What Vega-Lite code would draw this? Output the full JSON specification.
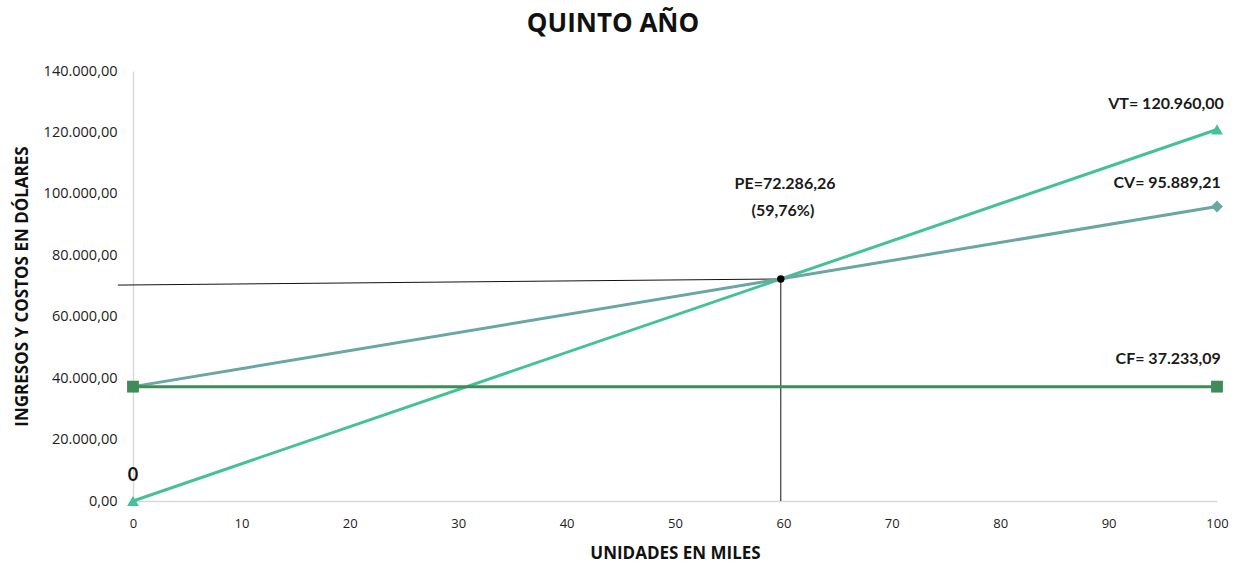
{
  "$schema": "https://vega.github.io/schema/vega-lite/v6.json",
  "width": 1084,
  "height": 430,
  "autosize": {"type": "none"},
  "padding": {"left": 133, "top": 71, "right": 38, "bottom": 64},
  "background": "white",
  "config": {
    "locale": {"number": {"decimal": ",", "thousands": ".", "grouping": [3], "currency": ["$", ""]}},
    "view": {"stroke": null},
    "font": "Lato"
  },
  "title": {
    "text": "QUINTO AÑO",
    "fontSize": 26,
    "font": "Open Sans",
    "fontWeight": "bold",
    "color": "#111111",
    "anchor": "middle",
    "dx": -62,
    "offset": 26
  },
  "datasets": {
    "series": [
      {"serie": "VT", "x": 0, "y": 0},
      {"serie": "VT", "x": 100, "y": 120960},
      {"serie": "CV", "x": 0, "y": 37233.09},
      {"serie": "CV", "x": 100, "y": 95889.21},
      {"serie": "CF", "x": 0, "y": 37233.09},
      {"serie": "CF", "x": 100, "y": 37233.09}
    ],
    "pe_h": [
      {"x": -1.4, "y": 70300},
      {"x": 59.76, "y": 72286.26}
    ],
    "pe_v": [
      {"x": 59.76, "y": 72286.26},
      {"x": 59.76, "y": 0}
    ],
    "labels": [
      {"t": "VT= 120.960,00", "x": 95.3, "y": 129256},
      {"t": "CV= 95.889,21", "x": 95.4, "y": 103535},
      {"t": "CF= 37.233,09", "x": 95.5, "y": 46233},
      {"t": "PE=72.286,26", "x": 60.15, "y": 103209},
      {"t": "(59,76%)", "x": 59.96, "y": 94418}
    ],
    "zero": [{"t": "0", "x": 0, "y": 8140}]
  },
  "layer": [
    {
      "data": {"name": "pe_h"},
      "mark": {"type": "line", "color": "#111111", "strokeWidth": 1, "clip": false},
      "encoding": {
        "x": {"field": "x", "type": "quantitative", "scale": {"domain": [0, 100]}, "axis": {"values": [0,10,20,30,40,50,60,70,80,90,100], "title": "UNIDADES EN MILES", "titleFont": "Open Sans", "titleFontSize": 17, "titleFontWeight": "bold", "titleColor": "#111111", "titlePadding": 15, "labelFont": "Open Sans", "labelFontSize": 13, "labelColor": "#222222", "labelPadding": 16, "ticks": false, "grid": false, "domainColor": "#d9d9d9", "domainWidth": 1.5, "labelFlush": false}},
        "y": {"field": "y", "type": "quantitative", "scale": {"domain": [0, 140000]}, "axis": {"values": [0,20000,40000,60000,80000,100000,120000,140000], "format": ",.2f", "title": "INGRESOS Y COSTOS EN DÓLARES", "titleFont": "Open Sans", "titleFontSize": 17, "titleFontWeight": "bold", "titleColor": "#111111", "titlePadding": 12, "labelFont": "Open Sans", "labelFontSize": 14.5, "labelColor": "#222222", "labelPadding": 16, "ticks": false, "grid": false, "domainColor": "#d9d9d9", "domainWidth": 1.5}}
      }
    },
    {
      "data": {"name": "pe_v"},
      "mark": {"type": "line", "color": "#111111", "strokeWidth": 1},
      "encoding": {
        "x": {"field": "x", "type": "quantitative"},
        "y": {"field": "y", "type": "quantitative"}
      }
    },
    {
      "data": {"name": "series"},
      "mark": {"type": "line", "strokeWidth": 3},
      "encoding": {
        "x": {"field": "x", "type": "quantitative"},
        "y": {"field": "y", "type": "quantitative"},
        "color": {"field": "serie", "type": "nominal", "scale": {"domain": ["VT", "CV", "CF"], "range": ["#45c295", "#6aa6a2", "#3f8c58"]}, "legend": null},
        "detail": {"field": "serie"}
      }
    },
    {
      "data": {"name": "series"},
      "mark": {"type": "point", "filled": true, "opacity": 1, "size": 140, "clip": false},
      "encoding": {
        "x": {"field": "x", "type": "quantitative"},
        "y": {"field": "y", "type": "quantitative"},
        "color": {"field": "serie", "type": "nominal", "scale": {"domain": ["VT", "CV", "CF"], "range": ["#45c295", "#6aa6a2", "#3f8c58"]}, "legend": null},
        "shape": {"field": "serie", "type": "nominal", "scale": {"domain": ["VT", "CV", "CF"], "range": ["triangle-up", "diamond", "square"]}, "legend": null}
      }
    },
    {
      "data": {"values": [{"x": 59.76, "y": 72286.26}]},
      "mark": {"type": "point", "filled": true, "color": "#000000", "opacity": 1, "size": 55},
      "encoding": {
        "x": {"field": "x", "type": "quantitative"},
        "y": {"field": "y", "type": "quantitative"}
      }
    },
    {
      "data": {"name": "labels"},
      "mark": {"type": "text", "font": "Lato", "fontWeight": "bold", "fontSize": 16, "color": "#1a1a1a", "align": "center", "baseline": "middle", "clip": false},
      "encoding": {
        "x": {"field": "x", "type": "quantitative"},
        "y": {"field": "y", "type": "quantitative"},
        "text": {"field": "t"}
      }
    },
    {
      "data": {"name": "zero"},
      "mark": {"type": "text", "font": "Lato", "fontWeight": "bold", "fontSize": 18, "color": "#111111", "align": "center", "baseline": "middle"},
      "encoding": {
        "x": {"field": "x", "type": "quantitative"},
        "y": {"field": "y", "type": "quantitative"},
        "text": {"field": "t"}
      }
    }
  ]
}
